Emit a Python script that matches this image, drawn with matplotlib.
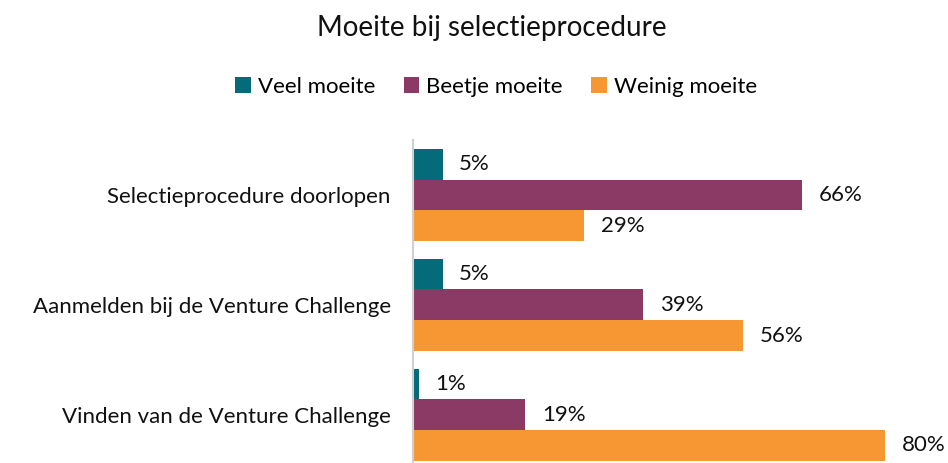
import matplotlib.pyplot as plt
import numpy as np

plt.rcParams['font.family'] = ['Lato', 'DejaVu Sans']

categories = [
    'Selectieprocedure doorlopen',
    'Aanmelden bij de Venture Challenge',
    'Vinden van de Venture Challenge',
]
series_names = ['Veel moeite', 'Beetje moeite', 'Weinig moeite']
veel = [5, 5, 1]
beetje = [66, 39, 19]
weinig = [29, 56, 80]

colors = ['#056B7A', '#8A3A64', '#F79733']

fig = plt.figure(figsize=(9.48, 4.63), dpi=100)
ax = fig.add_axes([413 / 948, 0.0, (940 - 413) / 948, (463 - 140) / 463])

y = np.arange(len(categories))
h = 0.28

for i, (vals, name) in enumerate(zip([veel, beetje, weinig], series_names)):
    pos = y + (i - 1) * h
    ax.barh(pos, vals, height=h, color=colors[i], label=name)
    for p, v in zip(pos, vals):
        ax.annotate(f'{v}%', (v, p), xytext=(12, 0), textcoords='offset points',
                    ha='left', va='center', fontsize=16, color='#111111')

ax.set_xlim(0, 527 / 5.9)
ax.set_ylim(2.44, -0.5)
ax.set_yticks(y)
ax.set_yticklabels(categories, fontsize=16, color='#111111')
ax.tick_params(axis='y', length=0, pad=16)
ax.set_xticks([])
for side in ['top', 'right', 'bottom']:
    ax.spines[side].set_visible(False)
ax.spines['left'].set_color('#D0D0D0')
ax.spines['left'].set_linewidth(1.5)

fig.text(492 / 948, 1 - 28 / 463, 'Moeite bij selectieprocedure', ha='center', va='center',
         fontsize=20, color='#111111')
fig.legend(loc='center', bbox_to_anchor=(496 / 948, 1 - 87 / 463), ncol=3, frameon=False,
           fontsize=16, handlelength=0.7, handleheight=0.7, handletextpad=0.3,
           columnspacing=1.3)

fig.savefig('out.png', dpi=100)
